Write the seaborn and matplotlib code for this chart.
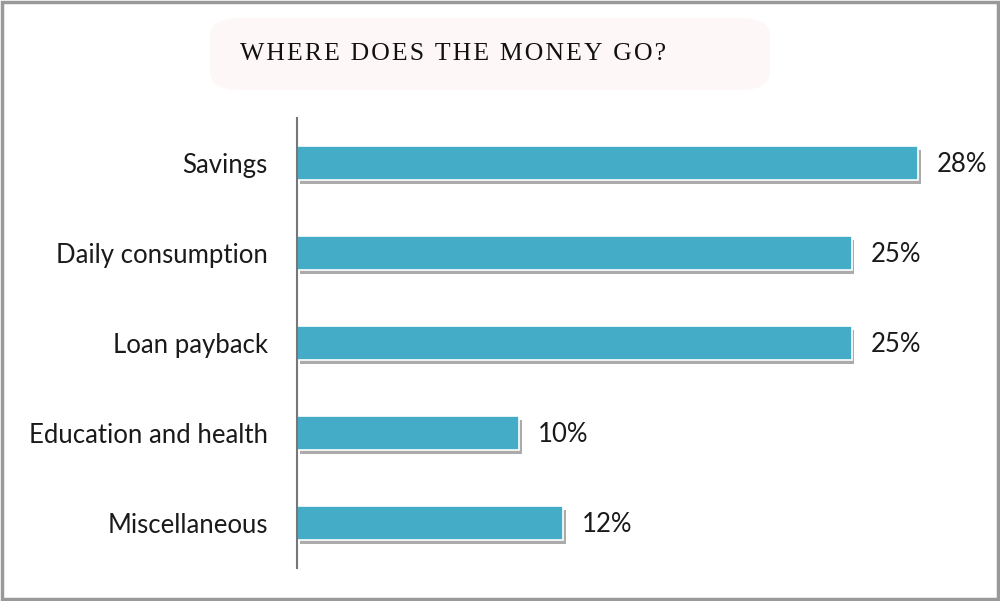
import numpy as np
import pandas as pd
import seaborn as sns
import matplotlib.pyplot as plt
import matplotlib.patheffects as pe
from matplotlib.patches import Rectangle, FancyBboxPatch

categories = ['Savings', 'Daily consumption', 'Loan payback', 'Education and health', 'Miscellaneous']
shares = [28, 25, 25, 10, 12]
value_labels = ['28%', '25%', '25%', '10%', '12%']

BAR_COLOUR = '#45acc8'

sns.set_theme(style='white')
plt.rcParams['font.family'] = ['Lato', 'DejaVu Sans']

df = pd.DataFrame({'category': categories, 'share': shares})

fig = plt.figure(figsize=(10, 6.01), dpi=100)
ax = fig.add_axes([0.297, 1 - 568 / 601, 0.69, 450 / 601])

sns.barplot(data=df, y='category', x='share', orient='h', color=BAR_COLOUR,
            width=0.38, saturation=1, ax=ax, order=categories)

# white rim + soft drop shadow on bars
for bar in ax.patches:
    bar.set_edgecolor('white')
    bar.set_linewidth(1.2)
    bar.set_path_effects([pe.SimplePatchShadow(offset=(2, -3), shadow_rgbFace='#666666', alpha=0.55),
                          pe.Normal()])

for bar, lab in zip(ax.patches, value_labels):
    ax.text(bar.get_width() + 0.85, bar.get_y() + bar.get_height() / 2 + 0.02, lab,
            va='center', ha='left', fontsize=18.5, color='#1a1a1a')

ax.set_xlim(0, 31.1)
ax.set_ylim(4.5, -0.5)
ax.set_xlabel('')
ax.set_ylabel('')
ax.set_xticks([])
ax.tick_params(axis='y', length=0, pad=21, labelsize=18.5, labelcolor='#1a1a1a')
for side in ['top', 'right', 'bottom']:
    ax.spines[side].set_visible(False)
ax.spines['left'].set_color('#777777')
ax.spines['left'].set_linewidth(1.5)
ax.set_facecolor('none')

# faint pink glow behind the title
fig.patches.append(FancyBboxPatch((0.22, 1 - 84 / 601), 0.54, 60 / 601, transform=fig.transFigure,
                                  boxstyle='round,pad=0.01,rounding_size=0.03',
                                  facecolor='#fef7f8', edgecolor='none', zorder=0))
title = '\u200a'.join('WHERE DOES THE MONEY GO?')
fig.text(0.4525, 1 - 54 / 601, title, ha='center', va='center', fontsize=18.5,
         family=['Liberation Serif', 'DejaVu Serif'], color='#111111')

# grey frame round the whole picture
fig.patches.append(Rectangle((0.002, 0.003), 0.996, 0.994, transform=fig.transFigure,
                             fill=False, edgecolor='#999999', linewidth=2.5))

fig.savefig('out.png', dpi=100)
